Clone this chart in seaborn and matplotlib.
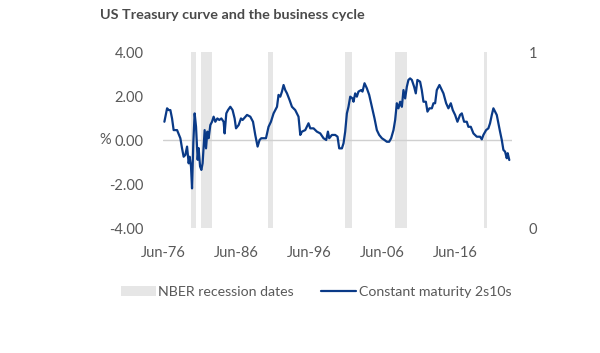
import matplotlib
matplotlib.use("Agg")
import matplotlib.pyplot as plt
import seaborn as sns
import pandas as pd
from matplotlib.patches import Patch
from matplotlib.lines import Line2D

# ---- data (fractional years) ----
dates = [1976.64, 1977.01, 1977.23, 1977.46, 1977.69, 1977.91, 1978.38, 1978.83,
         1979.06, 1979.28, 1979.51, 1979.75, 1979.97, 1980.10, 1980.29, 1980.43,
         1980.61, 1980.79, 1980.98, 1981.20, 1981.34, 1981.53, 1981.71, 1981.88,
         1982.16, 1982.35, 1982.53, 1982.71, 1982.94, 1983.17, 1983.39, 1983.62,
         1983.90, 1984.17, 1984.45, 1984.76, 1984.90, 1985.13, 1985.36, 1985.68,
         1985.99, 1986.27, 1986.46, 1986.82, 1987.14, 1987.36, 1987.97, 1988.42,
         1988.79, 1989.10, 1989.42, 1989.69, 1989.92, 1990.24, 1990.57, 1990.92,
         1991.25, 1991.61, 1992.08, 1992.29, 1992.53, 1992.76, 1992.98, 1993.21,
         1993.45, 1993.80, 1994.13, 1994.58, 1995.03, 1995.27, 1995.50, 1995.95,
         1996.40, 1996.64, 1997.09, 1997.55, 1998.01, 1998.46, 1998.83, 1999.06,
         1999.24, 1999.61, 2000.06, 2000.38, 2000.61, 2000.98, 2001.20, 2001.43,
         2001.66, 2001.88, 2002.12, 2002.43, 2002.57, 2002.80, 2003.03, 2003.25,
         2003.62, 2003.80, 2004.08, 2004.40, 2004.72, 2005.09, 2005.45, 2005.77,
         2006.09, 2006.46, 2006.82, 2007.14, 2007.46, 2007.73, 2008.05, 2008.28,
         2008.51, 2008.73, 2008.97, 2009.20, 2009.42, 2009.65, 2009.88, 2010.10,
         2010.33, 2010.57, 2010.88, 2011.11, 2011.33, 2011.70, 2011.93, 2012.16,
         2012.49, 2012.71, 2012.98, 2013.31, 2013.53, 2013.76, 2013.99, 2014.35,
         2014.68, 2014.90, 2015.27, 2015.58, 2015.91, 2016.18, 2016.50, 2016.82,
         2017.18, 2017.42, 2017.73, 2018.10, 2018.32, 2018.65, 2019.01, 2019.47,
         2019.92, 2020.16, 2020.38, 2020.75, 2021.06, 2021.29, 2021.53, 2021.75,
         2021.98, 2022.21, 2022.43, 2022.66, 2022.90, 2023.12, 2023.35, 2023.58,
         2023.71, 2023.93]
spread_2s10s = [0.83, 1.44, 1.36, 1.36, 0.98, 0.45, 0.45, 0.08,
                -0.38, -0.76, -0.68, -0.30, -1.06, -0.76, -1.21, -2.20,
                -0.10, 1.21, 0.60, -0.90, -0.37, -1.20, -1.36, -1.06,
                0.45, -0.38, 0.38, 0.08, 0.68, 0.83, 1.06, 0.83,
                0.98, 0.91, 0.98, 0.83, 0.30, 1.21, 1.36, 1.51,
                1.36, 0.98, 0.53, 0.68, 0.98, 0.91, 1.14, 1.06,
                0.83, 0.23, -0.30, 0.00, 0.08, 0.08, 0.08, 0.60,
                0.83, 1.21, 1.51, 2.05, 1.97, 2.20, 2.50, 2.27,
                2.12, 1.82, 1.51, 1.36, 1.06, 0.23, 0.38, 0.45,
                0.76, 0.53, 0.53, 0.38, 0.30, 0.08, 0.00, 0.38,
                0.08, 0.23, 0.23, 0.15, -0.38, -0.38, -0.15, 0.38,
                1.21, 1.51, 1.97, 1.89, 1.74, 2.12, 1.97, 2.20,
                2.27, 2.20, 2.58, 2.35, 2.05, 1.51, 0.98, 0.45,
                0.23, 0.08, 0.00, -0.08, -0.08, 0.08, 0.45, 0.91,
                1.67, 1.44, 1.74, 1.51, 2.27, 1.89, 2.42, 2.73,
                2.80, 2.73, 2.42, 2.12, 2.73, 2.65, 2.27, 1.74,
                1.74, 1.29, 1.44, 1.44, 1.67, 1.67, 2.27, 2.50,
                2.27, 2.12, 1.67, 1.44, 1.67, 1.36, 1.14, 0.83,
                1.14, 1.21, 0.83, 0.83, 0.60, 0.60, 0.30, 0.15,
                0.15, 0.03, 0.23, 0.45, 0.53, 0.76, 1.14, 1.44,
                1.29, 1.14, 0.76, 0.38, 0.00, -0.45, -0.53, -0.83,
                -0.60, -0.91]

recession_start = [1980.29, 1981.71, 1990.79, 2001.43, 2008.32, 2020.47]
recession_end = [1980.92, 1983.21, 1991.53, 2002.39, 2009.88, 2020.84]
recession_flag = [1, 1, 1, 1, 1, 1]

xtick_pos = [1976.5, 1986.5, 1996.5, 2006.5, 2016.5]
xtick_labels = ["Jun-76", "Jun-86", "Jun-96", "Jun-06", "Jun-16"]
ytick_vals = [-4, -2, 0, 2, 4]
ytick_labels = ["-4.00", "-2.00", "0.00", "2.00", "4.00"]

title = "US Treasury curve and the business cycle"
legend_labels = ["NBER recession dates", "Constant maturity 2s10s"]

# ---- styling ----
sns.set_theme(style="white")
plt.rcParams["font.family"] = ["Lato", "DejaVu Sans"]

navy = "#0a3a87"
bar_grey = "#e6e6e6"
text_grey = "#595959"

fig = plt.figure(figsize=(6, 3.53), dpi=100)
ax = fig.add_axes([163 / 600, 1 - 228 / 353, 349 / 600, 176 / 353])
ax2 = ax.twinx()

# recession bars on secondary axis (0..1)
widths = [e - s for s, e in zip(recession_start, recession_end)]
ax2.bar(recession_start, recession_flag, width=widths, align="edge",
        color=bar_grey, edgecolor="none", linewidth=0, zorder=0)
ax2.set_ylim(0, 1)
ax2.set_yticks([0, 1])
ax2.set_yticklabels(["0", "1"])

# put the line axis on top of bars
ax.set_zorder(ax2.get_zorder() + 1)
ax.patch.set_visible(False)

ax.axhline(0, color="#d0d0d0", lw=1.0, zorder=1)
df = pd.DataFrame({"date": dates, "spread": spread_2s10s})
sns.lineplot(data=df, x="date", y="spread", ax=ax, color=navy, lw=1.6, zorder=3)

ax.set_xlim(1976.45, 2024.3)
ax.set_ylim(-4, 4)
ax.set_yticks(ytick_vals)
ax.set_yticklabels(ytick_labels)
ax.set_xticks(xtick_pos)
ax.set_xticklabels(xtick_labels)
ax.set_xlabel("")
ax.set_ylabel("%", rotation=0, color=text_grey, fontsize=10.5, va="center", ha="center")
ax.yaxis.set_label_coords(-0.166, 0.5)

for a in (ax, ax2):
    for s in a.spines.values():
        s.set_visible(False)
    a.grid(False)
ax.tick_params(axis="x", length=0, pad=13, labelsize=10.5, labelcolor=text_grey)
ax.tick_params(axis="y", length=0, pad=14, labelsize=10.5, labelcolor=text_grey)
ax2.tick_params(axis="y", length=0, pad=12, labelsize=10.5, labelcolor=text_grey)

fig.text(100 / 600, 1 - 15 / 353, title, fontsize=10.4, fontweight="bold",
         color="#4a4a4a", ha="left", va="center")

handles = [Patch(facecolor=bar_grey, edgecolor="none"),
           Line2D([0], [0], color=navy, lw=1.6)]
fig.legend(handles, legend_labels, loc="center", bbox_to_anchor=(316 / 600, 1 - 292 / 353),
           ncol=2, frameon=False, fontsize=10.2, labelcolor=text_grey,
           handlelength=2.5, handletextpad=0.15, columnspacing=1.9, handleheight=0.7)

fig.savefig("out.png", dpi=100)
